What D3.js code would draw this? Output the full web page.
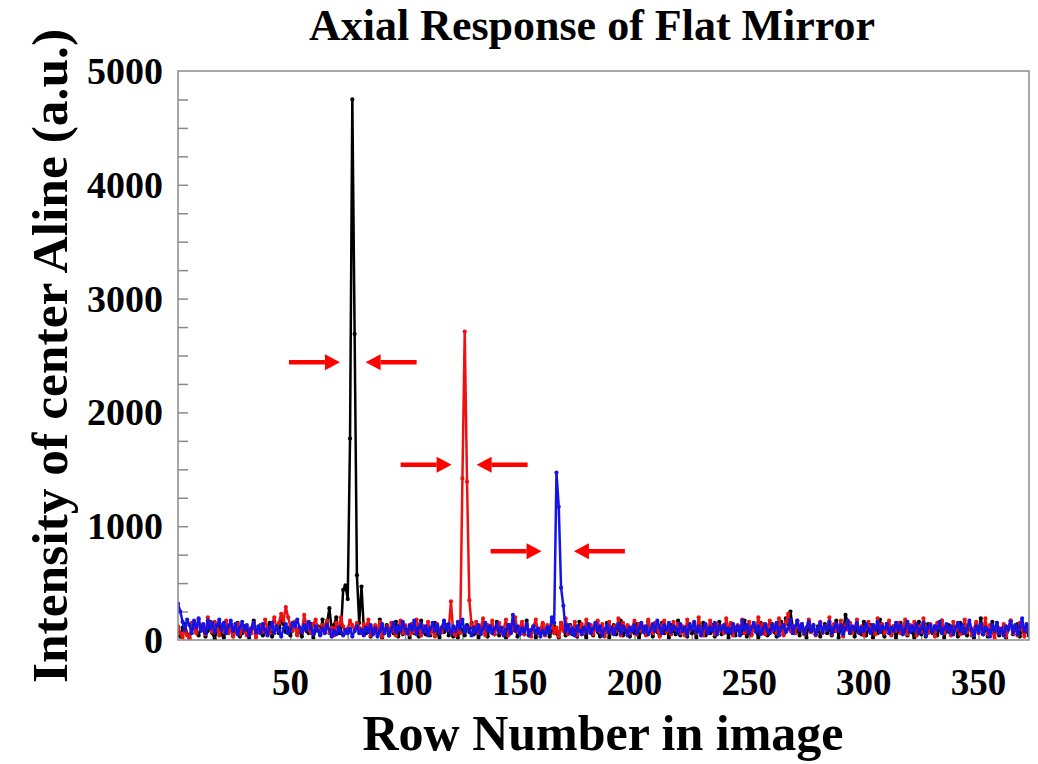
<!DOCTYPE html>
<html>
<head>
<meta charset="utf-8">
<script src="https://cdn.jsdelivr.net/npm/d3@7"></script>
<style>
body { margin: 0; background: #fff; }
text { font-family: "Liberation Serif", "Times New Roman", serif; font-weight: bold; fill: #000; }
</style>
</head>
<body>
<div class="chart"></div>
<script>
// intensity per row, one array per series
var blackSeries = [
60, 30, 110, 140, 50, 20, 90, 150, 70, 40, 120, 100, 30, 80, 160, 60, 10, 90, 130, 50,
20, 110, 70, 140, 40, 80, 150, 30, 60, 120, 90, 20, 100, 170, 50, 70, 130, 40, 90, 60,
150, 30, 80, 120, 60, 190, 140, 70, 110, 40, 100, 160, 50, 90, 30, 130, 80, 60, 140, 20,
90, 120, 50, 180, 70, 150, 280, 90, 130, 200, 60,
60, 440, 480, 360, 1770, 4750, 2690, 570, 150, 470,
100, 60, 140, 30, 90, 110, 50, 180, 20, 70, 130, 40, 100, 60, 160, 30, 90, 50, 120,
70, 20, 140, 60, 100, 30, 170, 80, 50, 120, 40, 90, 150, 60, 20, 110, 70, 130, 40, 80,
30, 60, 20, 110, 90, 40, 130, 70, 150, 50, 100, 20, 80, 140, 60, 30, 120, 90, 50, 160,
40, 100, 70, 20, 130, 60, 90, 150, 30, 80, 110, 50, 170, 40, 70, 120, 20, 90, 60, 140,
50, 100, 30, 80, 120, 60, 20, 150, 90, 40, 70, 130, 50, 110, 30, 160, 80, 60, 20, 120,
90, 40, 140, 70, 30, 110, 60, 150, 20, 80, 130, 50, 90, 170, 40, 70, 120, 30, 100, 60,
140, 20, 80, 110, 50, 160, 90, 30, 120, 70, 40, 150, 60, 100, 20, 130, 80, 50, 170, 40,
90, 110, 30, 140, 60, 80, 20, 120, 70, 150, 40, 100, 60, 130, 30, 90, 160, 50, 80, 110,
20, 140, 70, 40, 120, 90, 60, 170, 30, 100, 50, 130, 80, 20, 150, 60, 110, 40, 90, 140,
70, 30, 120, 160, 50, 190, 140, 250, 110, 60, 90, 40, 130, 80, 20, 150, 70, 100, 50, 120,
30, 90, 140, 60, 110, 40, 80, 170, 20, 130, 70, 220, 150, 60, 100, 30, 120, 80, 50, 160,
40, 90, 130, 20, 110, 60, 180, 70, 30, 140, 90, 50, 120, 20, 80, 150, 60, 100, 40, 130,
70, 20, 110, 160, 50, 90, 30, 140, 80, 60, 120, 40, 100, 170, 20, 90, 130, 50, 70, 110,
30, 150, 60, 100, 40, 120, 80, 20, 140, 70, 190, 50, 110, 30, 90, 160, 60, 130, 40, 80,
120, 20, 100, 170, 50, 90, 140, 30, 110, 60, 80, 40
];

var redSeries = [
120, 60, 20, 90, 40, 10, 150, 110, 60, 180, 90, 130, 50, 200, 140, 70, 160, 100, 40, 130,
80, 170, 60, 110, 30, 90, 140, 50, 120, 80, 40, 100, 60, 150, 20, 90, 130, 70, 180, 110,
60, 140, 200, 90, 150, 230, 170, 290, 200, 120, 80, 160, 40, 110, 70, 220, 130, 90, 60, 140,
180, 100, 50, 130, 80, 170, 60, 110, 40, 150, 90, 200, 120, 60, 100, 170, 130, 80, 150, 110,
60, 140, 90, 180, 40, 100, 130, 70, 160, 30, 90, 120, 60, 150, 80, 40, 110, 170, 60, 130,
90, 50, 140, 70, 180, 110, 40, 120, 80, 160, 60, 100, 30, 140, 90, 70, 150, 120, 90, 340,
60, 40, 100, 60, 1420, 2710, 1390, 350, 130, 80, 160, 60, 110, 190, 40, 130, 90, 170, 50, 120,
150, 60, 100, 180, 40, 130, 90, 200, 70, 110, 160, 50, 140, 80, 30, 120, 180, 60, 100, 150,
40, 130, 90, 170, 60, 110, 30, 150, 80, 190, 50, 120, 70, 160, 40, 100, 140, 60, 180, 90,
130, 50, 110, 170, 70, 140, 30, 100, 160, 60, 120, 80, 190, 40, 150, 90, 130, 60, 110, 170,
50, 140, 80, 120, 40, 180, 100, 60, 150, 90, 30, 130, 170, 70, 110, 50, 160, 90, 140, 60,
120, 40, 180, 80, 110, 150, 60, 200, 90, 40, 130, 70, 170, 100, 50, 140, 80, 120, 60, 190,
90, 150, 40, 110, 130, 70, 180, 60, 100, 160, 40, 120, 90, 200, 70, 140, 50, 110, 170, 80,
130, 60, 190, 100, 40, 150, 230, 80, 120, 60, 170, 90, 140, 50, 110, 180, 70, 130, 40, 100,
160, 60, 120, 90, 200, 50, 140, 80, 110, 170, 30, 130, 90, 150, 60, 110, 180, 70, 120, 40,
100, 160, 80, 130, 50, 190, 90, 140, 60, 110, 170, 40, 120, 80, 150, 60, 100, 180, 50, 130,
90, 160, 40, 120, 70, 190, 100, 60, 140, 80, 30, 150, 110, 170, 60, 120, 90, 40, 160, 80,
130, 50, 110, 180, 70, 140, 40, 100, 160, 60, 120, 90, 190, 50, 130, 70, 20, 150, 100, 60,
140, 30, 110, 170, 60, 120, 40, 150, 90, 30, 130, 70
];

var blueSeries = [
320, 250, 160, 90, 180, 130, 60, 170, 110, 190, 80, 140, 60, 170, 100, 150, 70, 130, 180, 90,
150, 60, 120, 170, 80, 140, 50, 110, 160, 90, 130, 40, 100, 150, 70, 120, 60, 140, 90, 40,
110, 150, 60, 120, 80, 30, 100, 140, 60, 90, 150, 120, 180, 110, 70, 130, 90, 160, 100, 50,
120, 80, 40, 100, 60, 130, 90, 30, 80, 50, 110, 70, 40, 90, 60, 100, 30, 80, 120, 60,
90, 40, 110, 70, 130, 50, 100, 30, 80, 140, 60, 110, 40, 90, 150, 70, 120, 80, 160, 100,
60, 130, 90, 170, 50, 110, 140, 70, 120, 40, 100, 150, 80, 130, 60, 110, 170, 90, 140, 60,
120, 80, 160, 100, 180, 70, 120, 90, 40, 110, 70, 130, 50, 100, 150, 80, 120, 60, 100, 140,
70, 110, 40, 90, 130, 60, 220, 80, 120, 50, 100, 70, 140, 40, 90, 120, 60, 100, 30, 80,
50, 110, 70, 200, 150, 1470, 1170, 460, 300, 80, 130, 60, 100, 40, 120, 80, 50, 110, 70, 140,
60, 100, 150, 80, 120, 40, 90, 130, 70, 110, 50, 100, 140, 60, 120, 90, 40, 110, 80, 130,
60, 100, 150, 70, 120, 50, 90, 140, 80, 170, 110, 60, 130, 90, 150, 70, 120, 100, 60, 140,
80, 110, 50, 130, 90, 160, 70, 120, 40, 100, 140, 60, 110, 80, 150, 50, 120, 90, 130, 70,
100, 60, 140, 80, 120, 40, 170, 90, 130, 60, 110, 150, 70, 120, 50, 100, 140, 80, 60, 130,
90, 150, 40, 110, 130, 70, 100, 180, 60, 120, 170, 90, 140, 60, 110, 160, 80, 130, 50, 100,
150, 70, 120, 90, 160, 60, 110, 140, 80, 130, 50, 100, 170, 70, 120, 90, 150, 60, 110, 80,
140, 100, 60, 130, 90, 160, 70, 120, 100, 140, 60, 110, 80, 150, 90, 130, 50, 100, 160, 70,
120, 80, 140, 60, 100, 150, 40, 110, 130, 70, 120, 90, 160, 60, 100, 140, 70, 120, 50, 110,
150, 80, 130, 60, 100, 170, 90, 40, 120, 70, 140, 50, 110, 90, 30, 130, 80, 150, 60, 100,
40, 120, 90, 160, 70, 130, 50, 110, 190, 80, 140, 60
];

var seriesColors = ['#000000', '#ee1111', '#1414e6'];
var xTicks = [50, 100, 150, 200, 250, 300, 350];
var yTicks = [0, 1000, 2000, 3000, 4000, 5000];

// FWHM markers: [left tip row, right tip row, intensity]
var arrows = [
  [71.6, 82.8, 2440],
  [120.3, 131.2, 1540],
  [159.5, 173.6, 780]
];

var W = 1038, H = 764;
var margin = {left: 178, top: 71, right: 9, bottom: 124};

var x = d3.scaleLinear()
.domain([1, 372])
.range([margin.left, W - margin.right])
;

var y = d3.scaleLinear()
.domain([0, 5000])
.range([H - margin.bottom, margin.top])
;

var svg = d3
.select('div.chart')
.append('svg')
.attr('width', W)
.attr('height', H)
;

var defs = svg.append('defs');
defs.append('clipPath')
.attr('id', 'plot')
.append('rect')
.attr('x', margin.left)
.attr('y', margin.top)
.attr('width', W - margin.left - margin.right)
.attr('height', H - margin.top - margin.bottom)
;

// minor ticks pointing inward
var yTickAxis = d3.axisRight(y)
.tickValues(d3.range(250, 5000, 250))
.tickSize(10)
.tickFormat('')
;
var xTickAxis = d3.axisTop(x)
.tickValues(d3.range(25, 372, 25))
.tickSize(8)
.tickFormat('')
;

svg.append('g')
.attr('class', 'ticks')
.attr('transform', 'translate(' + margin.left + ',0)')
.call(yTickAxis)
;
svg.append('g')
.attr('class', 'ticks')
.attr('transform', 'translate(0,' + (H - margin.bottom) + ')')
.call(xTickAxis)
;
svg.selectAll('.ticks .domain').remove();
svg.selectAll('.ticks line').attr('stroke', '#8a8a8a').attr('stroke-width', 1.5);

var line = d3.line()
.x(function(d, i){ return x(i + 1); })
.y(function(d){ return y(d); })
;

var plot = svg.append('g').attr('clip-path', 'url(#plot)');

[blackSeries, redSeries, blueSeries].forEach(function(s, k){
  plot.append('path')
  .datum(s)
  .attr('d', line)
  .attr('fill', 'none')
  .attr('stroke', seriesColors[k])
  .attr('stroke-width', 2.5)
  .attr('stroke-linejoin', 'round')
  ;
  plot.selectAll('.dot' + k)
  .data(s)
  .enter()
  .append('circle')
  .attr('class', 'dot' + k)
  .attr('cx', function(d, i){ return x(i + 1); })
  .attr('cy', function(d){ return y(d); })
  .attr('r', 2.1)
  .attr('fill', seriesColors[k])
  ;
});

// frame
svg.append('rect')
.attr('x', margin.left)
.attr('y', margin.top)
.attr('width', W - margin.left - margin.right)
.attr('height', H - margin.top - margin.bottom)
.attr('fill', 'none')
.attr('stroke', '#8a8a8a')
.attr('stroke-width', 1.5)
;

// tick labels
svg.selectAll('.xlab')
.data(xTicks)
.enter()
.append('text')
.attr('class', 'xlab')
.attr('x', function(d){ return x(d); })
.attr('y', 695)
.attr('text-anchor', 'middle')
.style('font-size', '37px')
.text(function(d){ return d; })
;

svg.selectAll('.ylab')
.data(yTicks)
.enter()
.append('text')
.attr('class', 'ylab')
.attr('x', 163)
.attr('y', function(d){ return y(d) + 13; })
.attr('text-anchor', 'end')
.style('font-size', '38px')
.text(function(d){ return d; })
;

// titles
svg.append('text')
.attr('x', 592)
.attr('y', 40)
.attr('text-anchor', 'middle')
.style('font-size', '44px')
.text('Axial Response of Flat Mirror')
;

svg.append('text')
.attr('x', 603)
.attr('y', 750)
.attr('text-anchor', 'middle')
.style('font-size', '50px')
.text('Row Number in image')
;

svg.append('text')
.attr('transform', 'translate(67,356) rotate(-90)')
.attr('text-anchor', 'middle')
.style('font-size', '51.5px')
.text('Intensity of center Aline (a.u.)')
;

// red arrows
var arrowLen = 51, headLen = 15, headHalf = 8;
function drawArrow(tipX, yy, dir){
  var tail = tipX - dir * arrowLen;
  var base = tipX - dir * headLen;
  svg.append('line')
  .attr('x1', tail).attr('y1', yy)
  .attr('x2', base).attr('y2', yy)
  .attr('stroke', '#ff0000')
  .attr('stroke-width', 4.5)
  ;
  svg.append('path')
  .attr('d', 'M' + tipX + ',' + yy + 'L' + base + ',' + (yy - headHalf) + 'L' + base + ',' + (yy + headHalf) + 'Z')
  .attr('fill', '#ff0000')
  ;
}
arrows.forEach(function(a){
  drawArrow(x(a[0]), y(a[2]), 1);
  drawArrow(x(a[1]), y(a[2]), -1);
});
</script>
</body>
</html>
